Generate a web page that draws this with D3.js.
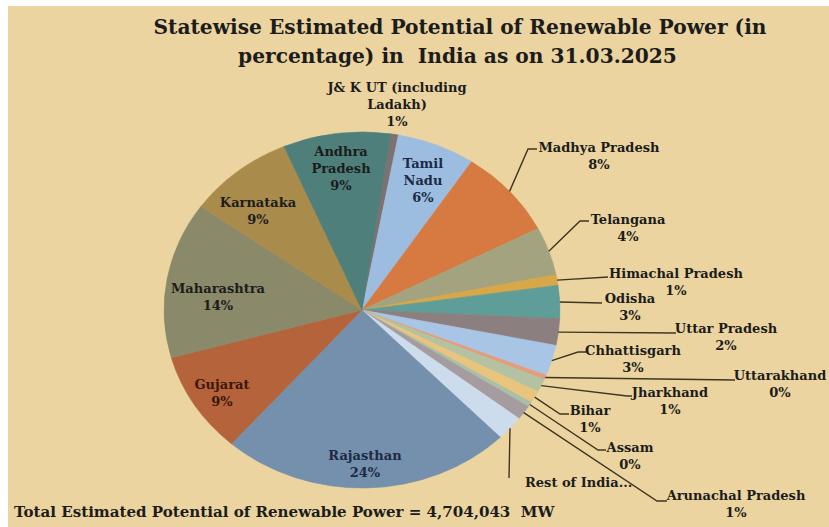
<!DOCTYPE html>
<html>
<head>
<meta charset="utf-8">
<script src="https://cdn.jsdelivr.net/npm/d3@7"></script>
<style>
  body { margin: 0; background: #fff; }
  svg { display: block; }
  text { font-family: "DejaVu Serif", serif; font-weight: bold; fill: #1c1c1c; }
</style>
</head>
<body>
<svg id="chart"></svg>
<script>
// slices in clockwise order, starting just right of 12 o'clock
const states = [
  "J& K UT (including Ladakh)", "Tamil Nadu", "Madhya Pradesh", "Telangana",
  "Himachal Pradesh", "Odisha", "Uttar Pradesh", "Chhattisgarh", "Uttarakhand",
  "Jharkhand", "Bihar", "Assam", "Arunachal Pradesh", "Rest of India",
  "Rajasthan", "Gujarat", "Maharashtra", "Karnataka", "Andhra Pradesh"
];
// share of total potential, %
const shares = [0.64, 6.4, 8.1, 4.4, 0.95, 3.0, 2.4, 2.8, 0.4, 1.2, 1.1, 0.45, 1.3, 2.25, 23.8, 9.2, 14.2, 8.7, 8.75];
const colors = [
  "#7d7272", "#9dbde0", "#d77a42", "#a3a47f", "#d8a848", "#5f9d98", "#8c7f80",
  "#a9c5e6", "#e59c7c", "#b3c3a2", "#e9c47e", "#a9bfa7", "#a59c9f", "#cddcec",
  "#7590ad", "#b5633a", "#8a8a6a", "#a98b4c", "#4e7f7b"
];
const wrapNames = {
  "J& K UT (including Ladakh)": ["J& K UT (including", "Ladakh)"],
  "Tamil Nadu": ["Tamil", "Nadu"],
  "Andhra Pradesh": ["Andhra", "Pradesh"],
  "Rest of India": ["Rest of India..."]
};
const titleLines = ["Statewise Estimated Potential of Renewable Power (in", "percentage) in  India as on 31.03.2025"];
const footerText = "Total Estimated Potential of Renewable Power = 4,704,043  MW";

// label placement (x = text centre, y = first baseline)
const labelPos = {
  "J& K UT (including Ladakh)": { x: 397, y: 92 },
  "Tamil Nadu": { x: 423, y: 168, fill: "#1c2a44" },
  "Madhya Pradesh": { x: 599, y: 152, elbow: [528, 149], end: [537, 149] },
  "Telangana": { x: 628, y: 224, elbow: [580, 221], end: [589, 221] },
  "Himachal Pradesh": { x: 676, y: 278, end: [608, 277] },
  "Odisha": { x: 630, y: 303, end: [602, 303] },
  "Uttar Pradesh": { x: 726, y: 333, end: [676, 333] },
  "Chhattisgarh": { x: 633, y: 355, elbow: [578, 352], end: [586, 352] },
  "Uttarakhand": { x: 780, y: 380, end: [735, 380] },
  "Jharkhand": { x: 670, y: 397, elbow: [627, 396], end: [632, 396] },
  "Bihar": { x: 590, y: 415, elbow: [560, 414], end: [569, 414] },
  "Assam": { x: 630, y: 452, elbow: [598, 450], end: [606, 450] },
  "Arunachal Pradesh": { x: 736, y: 500, elbow: [657, 501], end: [667, 501] },
  "Rest of India": { x: 525, y: 487, anchor: "start", noPct: true, elbow: null, end: [509, 478] },
  "Rajasthan": { x: 365, y: 460, fill: "#1c2a44" },
  "Gujarat": { x: 222, y: 389, fill: "#3b160a" },
  "Maharashtra": { x: 218, y: 293 },
  "Karnataka": { x: 258, y: 207 },
  "Andhra Pradesh": { x: 341, y: 156 }
};

const width = 829, height = 527;
const svg = d3.select("#chart").attr("width", width).attr("height", height);

svg.append("rect").attr("width", width).attr("height", height).attr("fill", "#fff");
svg.append("rect")
  .attr("x", 8).attr("y", 6)
  .attr("width", width - 8).attr("height", height - 6)
  .attr("fill", "#ebd49f");

// pie is slightly stretched horizontally like the source picture
const cx = 362, cy = 310, r = 178, sx = 1.112;
const start = 8.3 * Math.PI / 180;
const pie = d3.pie().sort(null).startAngle(start).endAngle(start + 2 * Math.PI);
const arcs = pie(shares);
const arc = d3.arc().innerRadius(0).outerRadius(r);
const total = d3.sum(shares);
const pct = d3.format(".0%");
const color = d3.scaleOrdinal(states, colors);

svg.append("g")
  .attr("transform", `translate(${cx},${cy}) scale(${sx},1)`)
  .selectAll("path")
  .data(arcs)
  .join("path")
  .attr("d", arc)
  .attr("fill", (d, i) => color(states[i]))
  .attr("stroke", (d, i) => color(states[i]))
  .attr("stroke-width", 0.6);

const edge = a => [cx + r * sx * Math.sin(a), cy - r * Math.cos(a)];
const line = d3.line();

// leader lines
svg.append("g")
  .selectAll("path")
  .data(arcs.filter((d, i) => labelPos[states[i]].end))
  .join("path")
  .attr("d", d => {
    const p = labelPos[states[d.index]];
    const pts = [edge((d.startAngle + d.endAngle) / 2)];
    if (p.elbow) pts.push(p.elbow);
    pts.push(p.end);
    return line(pts);
  })
  .attr("fill", "none")
  .attr("stroke", "#3e3524")
  .attr("stroke-width", 1.4);

// labels
const labels = svg.append("g")
  .selectAll("text")
  .data(arcs)
  .join("text")
  .attr("font-size", 13)
  .attr("text-anchor", d => labelPos[states[d.index]].anchor || "middle")
  .style("fill", d => labelPos[states[d.index]].fill || null);

labels.each(function (d) {
  const name = states[d.index];
  const p = labelPos[name];
  const lines = (wrapNames[name] || [name]).slice();
  if (!p.noPct) lines.push(pct(d.value / total));
  d3.select(this).selectAll("tspan")
    .data(lines)
    .join("tspan")
    .attr("x", p.x)
    .attr("y", (t, j) => p.y + j * 16.8)
    .text(t => t);
});

function fitSize(sel, w) {
  const len = sel.node().getComputedTextLength();
  return parseFloat(sel.attr("font-size")) * w / len;
}

const t1 = svg.append("text").attr("x", 460).attr("y", 34).attr("font-size", 20)
  .attr("text-anchor", "middle").style("white-space", "pre").text(titleLines[0]);
const t2 = svg.append("text").attr("x", 457.5).attr("y", 63).attr("font-size", 20)
  .attr("text-anchor", "middle").style("white-space", "pre").text(titleLines[1]);
// both title lines share one size, as in the source
const ts = (fitSize(t1, 584) * 0.6 + fitSize(t2, 471) * 0.4);
t1.attr("font-size", ts);
t2.attr("font-size", ts);

const foot = svg.append("text").attr("x", 14).attr("y", 517).attr("font-size", 16)
  .style("white-space", "pre").text(footerText);
foot.attr("font-size", fitSize(foot, 541));
</script>
</body>
</html>
